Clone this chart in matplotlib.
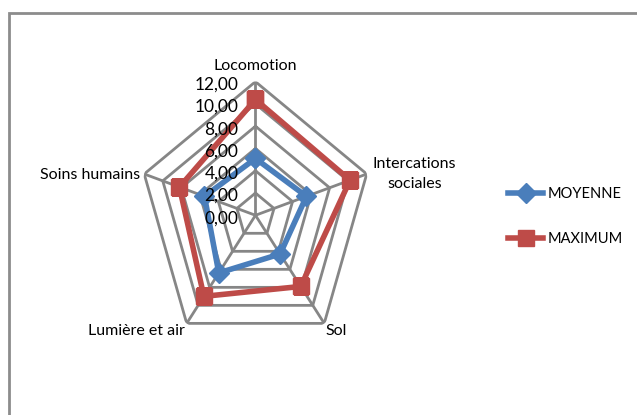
import numpy as np
import matplotlib
matplotlib.use("Agg")
import matplotlib.pyplot as plt
from matplotlib.patches import Rectangle
from matplotlib.lines import Line2D

categories = ["Locomotion", "Intercations\nsociales", "Sol", "Lumière et air", "Soins humains"]
moyenne = [5.1, 5.5, 4.3, 6.4, 5.5]
maximum = [10.4, 10.2, 7.9, 9.0, 8.2]
ticks = [0, 2, 4, 6, 8, 10, 12]
tick_labels = ["0,00", "2,00", "4,00", "6,00", "8,00", "10,00", "12,00"]

plt.rcParams['font.family'] = ['Lato', 'DejaVu Sans']

blue = "#4a7ebb"
red = "#be4b48"
grey = "#868686"

fig = plt.figure(figsize=(6.37, 4.15), dpi=100)
ax = fig.add_axes([0.2174, 0.1593, 0.3673, 0.6439], projection='polar')
ax.set_aspect('auto')
ax.set_theta_offset(np.pi / 2)
ax.set_theta_direction(-1)
ax.set_ylim(0, 12)
ax.grid(False)
ax.set_xticks([])
ax.set_yticks([])
ax.spines['polar'].set_visible(False)
ax.patch.set_visible(False)

n = len(categories)
angles = np.linspace(0, 2 * np.pi, n, endpoint=False)
closed = np.append(angles, angles[0])

# grille en pentagones
for t in ticks[1:]:
    ax.plot(closed, [t] * (n + 1), color=grey, lw=2, zorder=1)
for a in angles:
    ax.plot([a, a], [0, 12], color=grey, lw=2, zorder=1)

ax.plot(closed, moyenne + moyenne[:1], color=blue, lw=4, marker='D', ms=10,
        markerfacecolor=blue, markeredgecolor=blue, zorder=3)
ax.plot(closed, maximum + maximum[:1], color=red, lw=4, marker='s', ms=11,
        markerfacecolor=red, markeredgecolor=red, zorder=3)

# etiquettes de l'axe radial
for t, lab in zip(ticks, tick_labels):
    ax.annotate(lab, xy=(0, t), xytext=(-17, -3), textcoords='offset pixels',
                ha='right', va='center', fontsize=12.5, color='black', zorder=4)

# etiquettes des categories
offsets = [(0, 16, 'center'), (6, 0, 'left'), (1, -8, 'left'), (-2, -8, 'right'), (-4, -1, 'right')]
for a, lab, (dx, dy, ha) in zip(angles, categories, offsets):
    ax.annotate(lab, xy=(a, 12), xytext=(dx, dy), textcoords='offset pixels',
                ha=ha, va='center', multialignment='center', fontsize=11.5,
                linespacing=1.5, annotation_clip=False)

handles = [
    Line2D([], [], color=blue, lw=4, marker='D', ms=10),
    Line2D([], [], color=red, lw=4, marker='s', ms=11),
]
fig.legend(handles, ["MOYENNE", "MAXIMUM"], loc='center left',
           bbox_to_anchor=(0.777, 0.478), frameon=False, fontsize=10.5,
           handlelength=2.4, handletextpad=0.3, labelspacing=2.1)

fig.patches.append(Rectangle((9 / 637, -0.1), 1.0, (415 - 13) / 415 + 0.1,
                             transform=fig.transFigure, fill=False,
                             edgecolor='#8c8c8c', lw=2))

fig.savefig("out.png", dpi=100)
